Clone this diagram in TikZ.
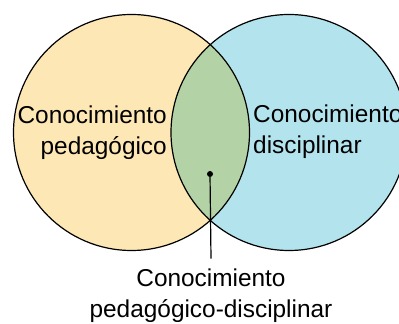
\documentclass[tikz,border=0pt]{standalone}
\usepackage{fontspec}
\setmainfont{Liberation Sans}
\usetikzlibrary{positioning}
\definecolor{pedyellow}{HTML}{FDE8B5}
\definecolor{disblue}{HTML}{B3E4EE}
\definecolor{pdgreen}{HTML}{B3D3A6}

\begin{document}
\begin{tikzpicture}[x=1pt, y=1pt,
    set/.style={circle, draw, line width=1.2pt, minimum size=236pt, inner sep=0pt},
    settext/.style={font=\fontsize{24.4}{31.5}\selectfont, inner sep=0pt}]
  \useasboundingbox (0,0) rectangle (399,324);
  \clip (0,0) rectangle (399,324);

  % Sets
  \coordinate (pc) at (131.5,191.5);
  \coordinate (dc) at (289,191.5);
  \fill[pedyellow] (pc) circle[radius=118pt];
  \fill[disblue] (dc) circle[radius=118pt];
  \begin{scope}
    \clip (pc) circle[radius=118pt];
    \fill[pdgreen] (dc) circle[radius=118pt];
  \end{scope}
  \node[set] (ped) at (pc) {};
  \node[set] (dis) at (dc) {};

  % Labels (base = last line)
  \node[settext, align=right, anchor=base east] (pedtxt) at (167,169) {Conocimiento\\pedagógico};
  \node[settext, align=left, anchor=base west] (distxt) at (253,170) {Conocimiento\\disciplinar};
  \node[settext, align=center, anchor=base] (pdtxt) at (211,6) {Conocimiento\\pedagógico-disciplinar};

  % Intersection
  \node[circle, fill, inner sep=0pt, minimum size=6pt] (dot) at (210,150) {};
  \draw[line width=1.2pt] (dot) -- ([yshift=10pt]pdtxt.north);
\end{tikzpicture}
\end{document}
